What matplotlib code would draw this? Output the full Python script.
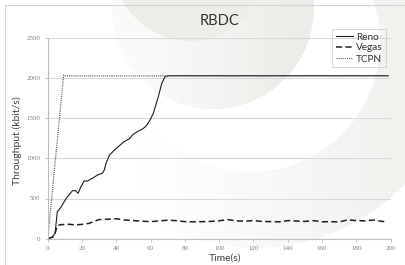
import numpy as np
import matplotlib
matplotlib.use("Agg")
import matplotlib.pyplot as plt

# ---------------- data ----------------
title = "RBDC"
x_label = "Time(s)"
y_label = "Throughput (kbit/s)"
series_names = ["Reno", "Vegas", "TCPN"]

reno_t = [0, 2.5, 4.3, 5.6, 7.2, 8.5, 10.5, 12.4, 14.4, 16.3, 17.7, 19.2, 21.2, 23.1,
          26, 29, 31.8, 33, 34, 36, 38.6, 41.6, 44.5, 47.4, 49.5, 52.2, 55.7, 57.7,
          59.7, 61.6, 64.5, 66.5, 68.4, 70.3, 198.5]
reno_y = [0, 20, 66, 336, 377, 419, 493, 543, 597, 597, 564, 639, 717, 717,
          750, 792, 813, 854, 937, 1041, 1095, 1153, 1207, 1240, 1290, 1331, 1370, 1410,
          1476, 1560, 1766, 1933, 2015, 2027, 2027]

vegas_t = [0, 3, 4.5, 5.6, 8, 12, 16, 20, 24, 27, 30, 35, 40, 45, 50, 55, 60, 65, 70,
           75, 80, 85, 90, 95, 100, 105, 110, 115, 120, 125, 130, 135, 140, 145, 150,
           155, 160, 165, 170, 175, 180, 185, 190, 195, 198]
vegas_y = [0, 20, 80, 165, 175, 180, 172, 178, 190, 215, 238, 242, 248, 232, 225, 218,
           212, 222, 230, 225, 212, 210, 212, 215, 222, 238, 222, 218, 225, 215, 212,
           210, 225, 220, 215, 225, 210, 212, 208, 235, 225, 222, 232, 215, 212]

tcpn_t = [0, 9.3, 10.5, 198.5]
tcpn_y = [0, 2036, 2025, 2025]

x_ticks = [0, 20, 40, 60, 80, 100, 120, 140, 160, 180, 200]
y_ticks = [0, 500, 1000, 1500, 2000, 2500]

# ---------------- figure ----------------
W, H = 406, 265
fig = plt.figure(figsize=(W / 100, H / 100), dpi=100)

# decorative background
bg = fig.add_axes([0, 0, 1, 1], zorder=0)
X, Y = np.meshgrid(np.arange(W) + 0.5, np.arange(H) + 0.5)
d = np.zeros((H, W))
inG = np.hypot(X - 255, Y - 40) < 208
d[inG] = (np.clip((X - 140) / 260, 0, 1) * 0.6)[inG]
inW = np.hypot(X - 250, Y - 42) < 130
d[inW] = 0
inB = np.hypot(X - 213, Y - 8) < 101
d[inB] = (np.clip((X - 100) / 190, 0.25, 1) * 0.8)[inB]
inA = np.hypot(X - 190, Y + 36) < 77
d[inA] = 0.75
gray = np.array([232, 233, 228]) / 255.0
img = 1 - d[..., None] * (1 - gray)[None, None, :]
bg.imshow(img, extent=[0, W, H, 0], aspect="auto", interpolation="bilinear")
bg.set_xlim(0, W)
bg.set_ylim(H, 0)
bg.axis("off")
# chart border
bg.plot([5, 5], [H, 5], color="#d4d4d4", lw=0.8)
bg.plot([5, W], [5, 5], color="#d4d4d4", lw=0.8)

# main plot area
left, right = 47.7 / W, 390.7 / W
bottom, top = 1 - 238.7 / H, 1 - 37.7 / H
ax = fig.add_axes([left, bottom, right - left, top - bottom], zorder=1)
ax.set_facecolor("none")

ax.plot(reno_t, reno_y, color="#1e1e1e", lw=0.8, label=series_names[0])
ax.plot(vegas_t, vegas_y, color="#1e1e1e", lw=1.1, dashes=(4, 2.2), label=series_names[1])
ax.plot(tcpn_t, tcpn_y, color="#555555", lw=0.9, dashes=(0.8, 0.9), label=series_names[2])

ax.set_xlim(0, 200)
ax.set_ylim(0, 2500)
ax.set_xticks(x_ticks)
ax.set_yticks(y_ticks)
ax.grid(axis="y", color="#d9d9d9", lw=0.8)
ax.set_axisbelow(True)
for s in ["top", "right"]:
    ax.spines[s].set_visible(False)
for s in ["left", "bottom"]:
    ax.spines[s].set_color("#bfbfbf")
    ax.spines[s].set_linewidth(0.8)
ax.tick_params(axis="both", direction="out", length=2.2, width=0.6, color="#bfbfbf",
               labelsize=5, labelcolor="#7f7f7f")
ax.tick_params(axis="y", pad=3)
ax.tick_params(axis="x", pad=3)
for lab in ax.get_xticklabels() + ax.get_yticklabels():
    lab.set_family("Liberation Serif")

fig.text((left + right) / 2, 1 - 21 / H, title, ha="center", va="center",
         fontsize=10.5, family="Lato", color="#333333")
fig.text(225 / W, 1 - 258 / H, x_label, ha="center", va="center",
         fontsize=7.5, family="Lato", color="#404040")
fig.text(17 / W, 1 - 141 / H, y_label, ha="center", va="center", rotation=90,
         fontsize=7.5, family="Lato", color="#404040")

leg = ax.legend(loc="upper right", bbox_to_anchor=(386 / W, 1 - 29 / H),
                bbox_transform=fig.transFigure, prop={"family": "Lato", "size": 7.2},
                frameon=True, fancybox=False, handlelength=1.7, handletextpad=0.3,
                borderpad=0.35, labelspacing=0.2, borderaxespad=0)
leg.get_frame().set_edgecolor("#c8c8c8")
leg.get_frame().set_linewidth(0.6)
leg.get_frame().set_facecolor("none")
for t in leg.get_texts():
    t.set_color("#333333")

fig.savefig("out.png", dpi=100)
